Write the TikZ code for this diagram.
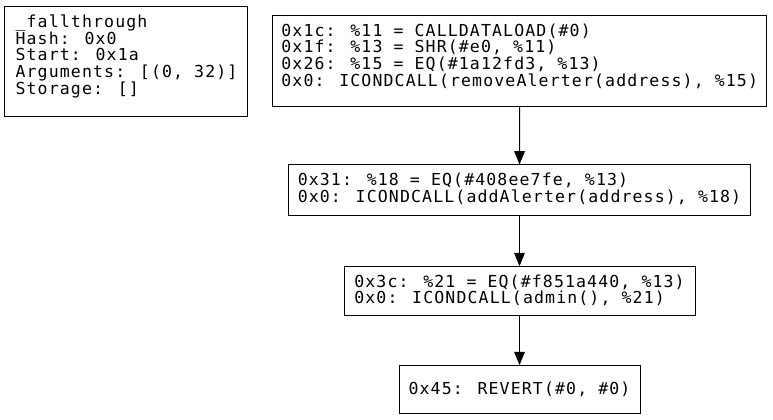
\documentclass[tikz,border=0pt]{standalone}
\usepackage{fontspec}
\newfontfamily\monofam[LetterSpace=6.8]{DejaVu Sans Mono}
\usetikzlibrary{arrows.meta}
\tikzset{
  blk/.style={draw=black, line width=0.75pt, rectangle, inner sep=0pt,
    font=\monofam\fontsize{12.4}{12.5}\selectfont},
  txt/.style={anchor=north, align=left, inner sep=0pt,
    font=\monofam\fontsize{12.4}{12.5}\selectfont},
  edge/.style={draw=black, line width=0.75pt, -{Triangle[length=10pt,width=8pt]}}
}
\begin{document}
\begin{tikzpicture}[x=0.75pt,y=-0.75pt]
\useasboundingbox (0,0) rectangle (773,420);
% boxes
\node[blk, minimum width=0.75*243pt, minimum height=0.75*110pt] (n1) at (125.5,61.5) {};
\node[blk, minimum width=0.75*494pt, minimum height=0.75*91pt] (n2) at (519.7,61.2) {};
\node[blk, minimum width=0.75*462pt, minimum height=0.75*50.7pt] (n3) at (519.5,190.3) {};
\node[blk, minimum width=0.75*351pt, minimum height=0.75*49.3pt] (n4) at (519.5,291.3) {};
\node[blk, minimum width=0.75*241pt, minimum height=0.75*48.3pt] (n5) at (519.5,389.8) {0x45: REVERT(\#0, \#0)};
% texts
\node[txt] (t1) at (126.5,14.5) {\_fallthrough\\Hash: 0x0\\Start: 0x1a\\Arguments: [(0, 32)]\\Storage: []};
\node[txt] (t2) at (519.7,23.5) {0x1c: \%11 = CALLDATALOAD(\#0)\\0x1f: \%13 = SHR(\#e0, \%11)\\0x26: \%15 = EQ(\#1a12fd3, \%13)\\0x0: ICONDCALL(removeAlerter(address), \%15)};
\node[txt] (t3) at (519.5,172.8) {0x31: \%18 = EQ(\#408ee7fe, \%13)\\0x0: ICONDCALL(addAlerter(address), \%18)};
\node[txt] (t4) at (519.5,274.3) {0x3c: \%21 = EQ(\#f851a440, \%13)\\0x0: ICONDCALL(admin(), \%21)};
% edges
\draw[edge] (n2.south) -- (n3.north);
\draw[edge] (n3.south) -- (n4.north);
\draw[edge] (n4.south) -- (n5.north);
\end{tikzpicture}
\end{document}
